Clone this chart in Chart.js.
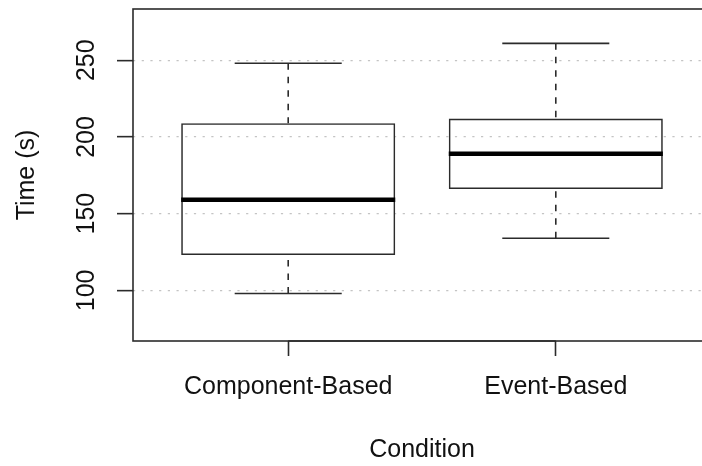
<!DOCTYPE html>
<html>
<head>
<meta charset="utf-8">
<script src="https://cdn.jsdelivr.net/npm/chart.js@4"></script>
<style>
  html, body { margin: 0; padding: 0; overflow: hidden; background: #fff; }
  #wrap { width: 712px; height: 466px; }
</style>
</head>
<body>
<div id="wrap"><canvas id="c" width="712" height="466"></canvas></div>
<script>
// Task completion time per condition (seconds), five-number summaries
const categories  = ['Component-Based', 'Event-Based'];
const positions   = [1, 2];
const whiskerLow  = [98, 134];
const q1          = [123, 166];
const median      = [159, 189];
const q3          = [209, 212];
const whiskerHigh = [248, 261];
const yTicks      = [100, 150, 200, 250];

const FONT = "'Liberation Sans', Arial, sans-serif";
const INK = '#2b2b2b';

// Whiskers, caps, medians and the plot frame, placed with the chart's scales
const boxParts = {
  id: 'boxParts',
  afterDatasetsDraw(chart) {
    const { ctx, chartArea: a, scales: { x, y } } = chart;
    const meta = chart.getDatasetMeta(0);
    ctx.save();
    meta.data.forEach((bar, i) => {
      const { x: cx, width } = bar.getProps(['x', 'width'], true);
      const half = width / 2;
      const capHalf = width / 4;
      // dashed whisker stems, drawn from the whisker end toward the hinge
      ctx.strokeStyle = INK;
      ctx.lineWidth = 1.6;
      ctx.setLineDash([6.5, 7]);
      ctx.beginPath();
      ctx.moveTo(cx, y.getPixelForValue(whiskerHigh[i]));
      ctx.lineTo(cx, y.getPixelForValue(q3[i]));
      ctx.moveTo(cx, y.getPixelForValue(whiskerLow[i]));
      ctx.lineTo(cx, y.getPixelForValue(q1[i]));
      ctx.stroke();
      // whisker caps
      ctx.setLineDash([]);
      ctx.beginPath();
      [whiskerHigh[i], whiskerLow[i]].forEach(v => {
        const py = y.getPixelForValue(v);
        ctx.moveTo(cx - capHalf, py);
        ctx.lineTo(cx + capHalf, py);
      });
      ctx.stroke();
      // median
      ctx.strokeStyle = '#000';
      ctx.lineWidth = 4.5;
      ctx.lineCap = 'butt';
      ctx.beginPath();
      const pm = y.getPixelForValue(median[i]);
      ctx.moveTo(cx - half, pm);
      ctx.lineTo(cx + half, pm);
      ctx.stroke();
    });
    // plot frame
    ctx.strokeStyle = INK;
    ctx.lineWidth = 1.6;
    ctx.strokeRect(a.left, a.top, a.right - a.left, a.bottom - a.top);
    // x axis line between the outer ticks
    ctx.beginPath();
    ctx.moveTo(x.getPixelForValue(positions[0]), a.bottom);
    ctx.lineTo(x.getPixelForValue(positions[positions.length - 1]), a.bottom);
    ctx.stroke();
    ctx.restore();
  }
};

new Chart(document.getElementById('c'), {
  type: 'bar',
  data: {
    datasets: [{
      data: positions.map((p, i) => ({ x: p, y: [q1[i], q3[i]] })),
      backgroundColor: 'rgba(255,255,255,0)',
      borderColor: INK,
      borderWidth: 1.6,
      borderSkipped: false,
      categoryPercentage: 0.8,
      barPercentage: 1.0
    }]
  },
  options: {
    responsive: false,
    animation: false,
    events: [],
    layout: { padding: { top: 9, right: 1, left: 0, bottom: 0 } },
    plugins: { legend: { display: false }, tooltip: { enabled: false } },
    scales: {
      x: {
        type: 'linear',
        offset: false,
        min: 0.42,
        max: 2.58,
        afterBuildTicks: s => { s.ticks = positions.map(v => ({ value: v })); },
        afterFit: s => { s.height = 125; s.paddingLeft = 0; s.paddingRight = 0; },
        ticks: {
          autoSkip: false,
          maxRotation: 0,
          padding: 16,
          color: '#111',
          font: { family: FONT, size: 25, lineHeight: 1.2 },
          callback: v => categories[positions.indexOf(v)] ?? ''
        },
        grid: { offset: false, drawOnChartArea: false, drawTicks: true, tickLength: 15, tickColor: INK, tickWidth: 1.6 },
        border: { display: false },
        title: {
          display: true, text: 'Condition', color: '#111',
          font: { family: FONT, size: 25, lineHeight: 1.2 },
          padding: { top: 0, bottom: 1 }
        }
      },
      y: {
        type: 'linear',
        min: 67,
        max: 283.4,
        afterBuildTicks: s => { s.ticks = yTicks.map(v => ({ value: v })); },
        afterFit: s => { s.width = 133; s.paddingTop = 0; s.paddingBottom = 0; },
        ticks: {
          minRotation: 90,
          maxRotation: 90,
          crossAlign: 'center',
          padding: 9,
          color: '#111',
          font: { family: FONT, size: 25, lineHeight: 1.2 }
        },
        grid: {
          color: '#c4c4c4', lineWidth: 1.3,
          drawTicks: true, tickLength: 16, tickColor: INK, tickWidth: 1.6, tickBorderDash: []
        },
        border: { display: false, dash: [2.2, 6.5] },
        title: {
          display: true, text: 'Time (s)', color: '#111',
          font: { family: FONT, size: 25, lineHeight: 1.2 },
          padding: { top: 12, bottom: 0 }
        }
      }
    }
  },
  plugins: [boxParts]
});
</script>
</body>
</html>
